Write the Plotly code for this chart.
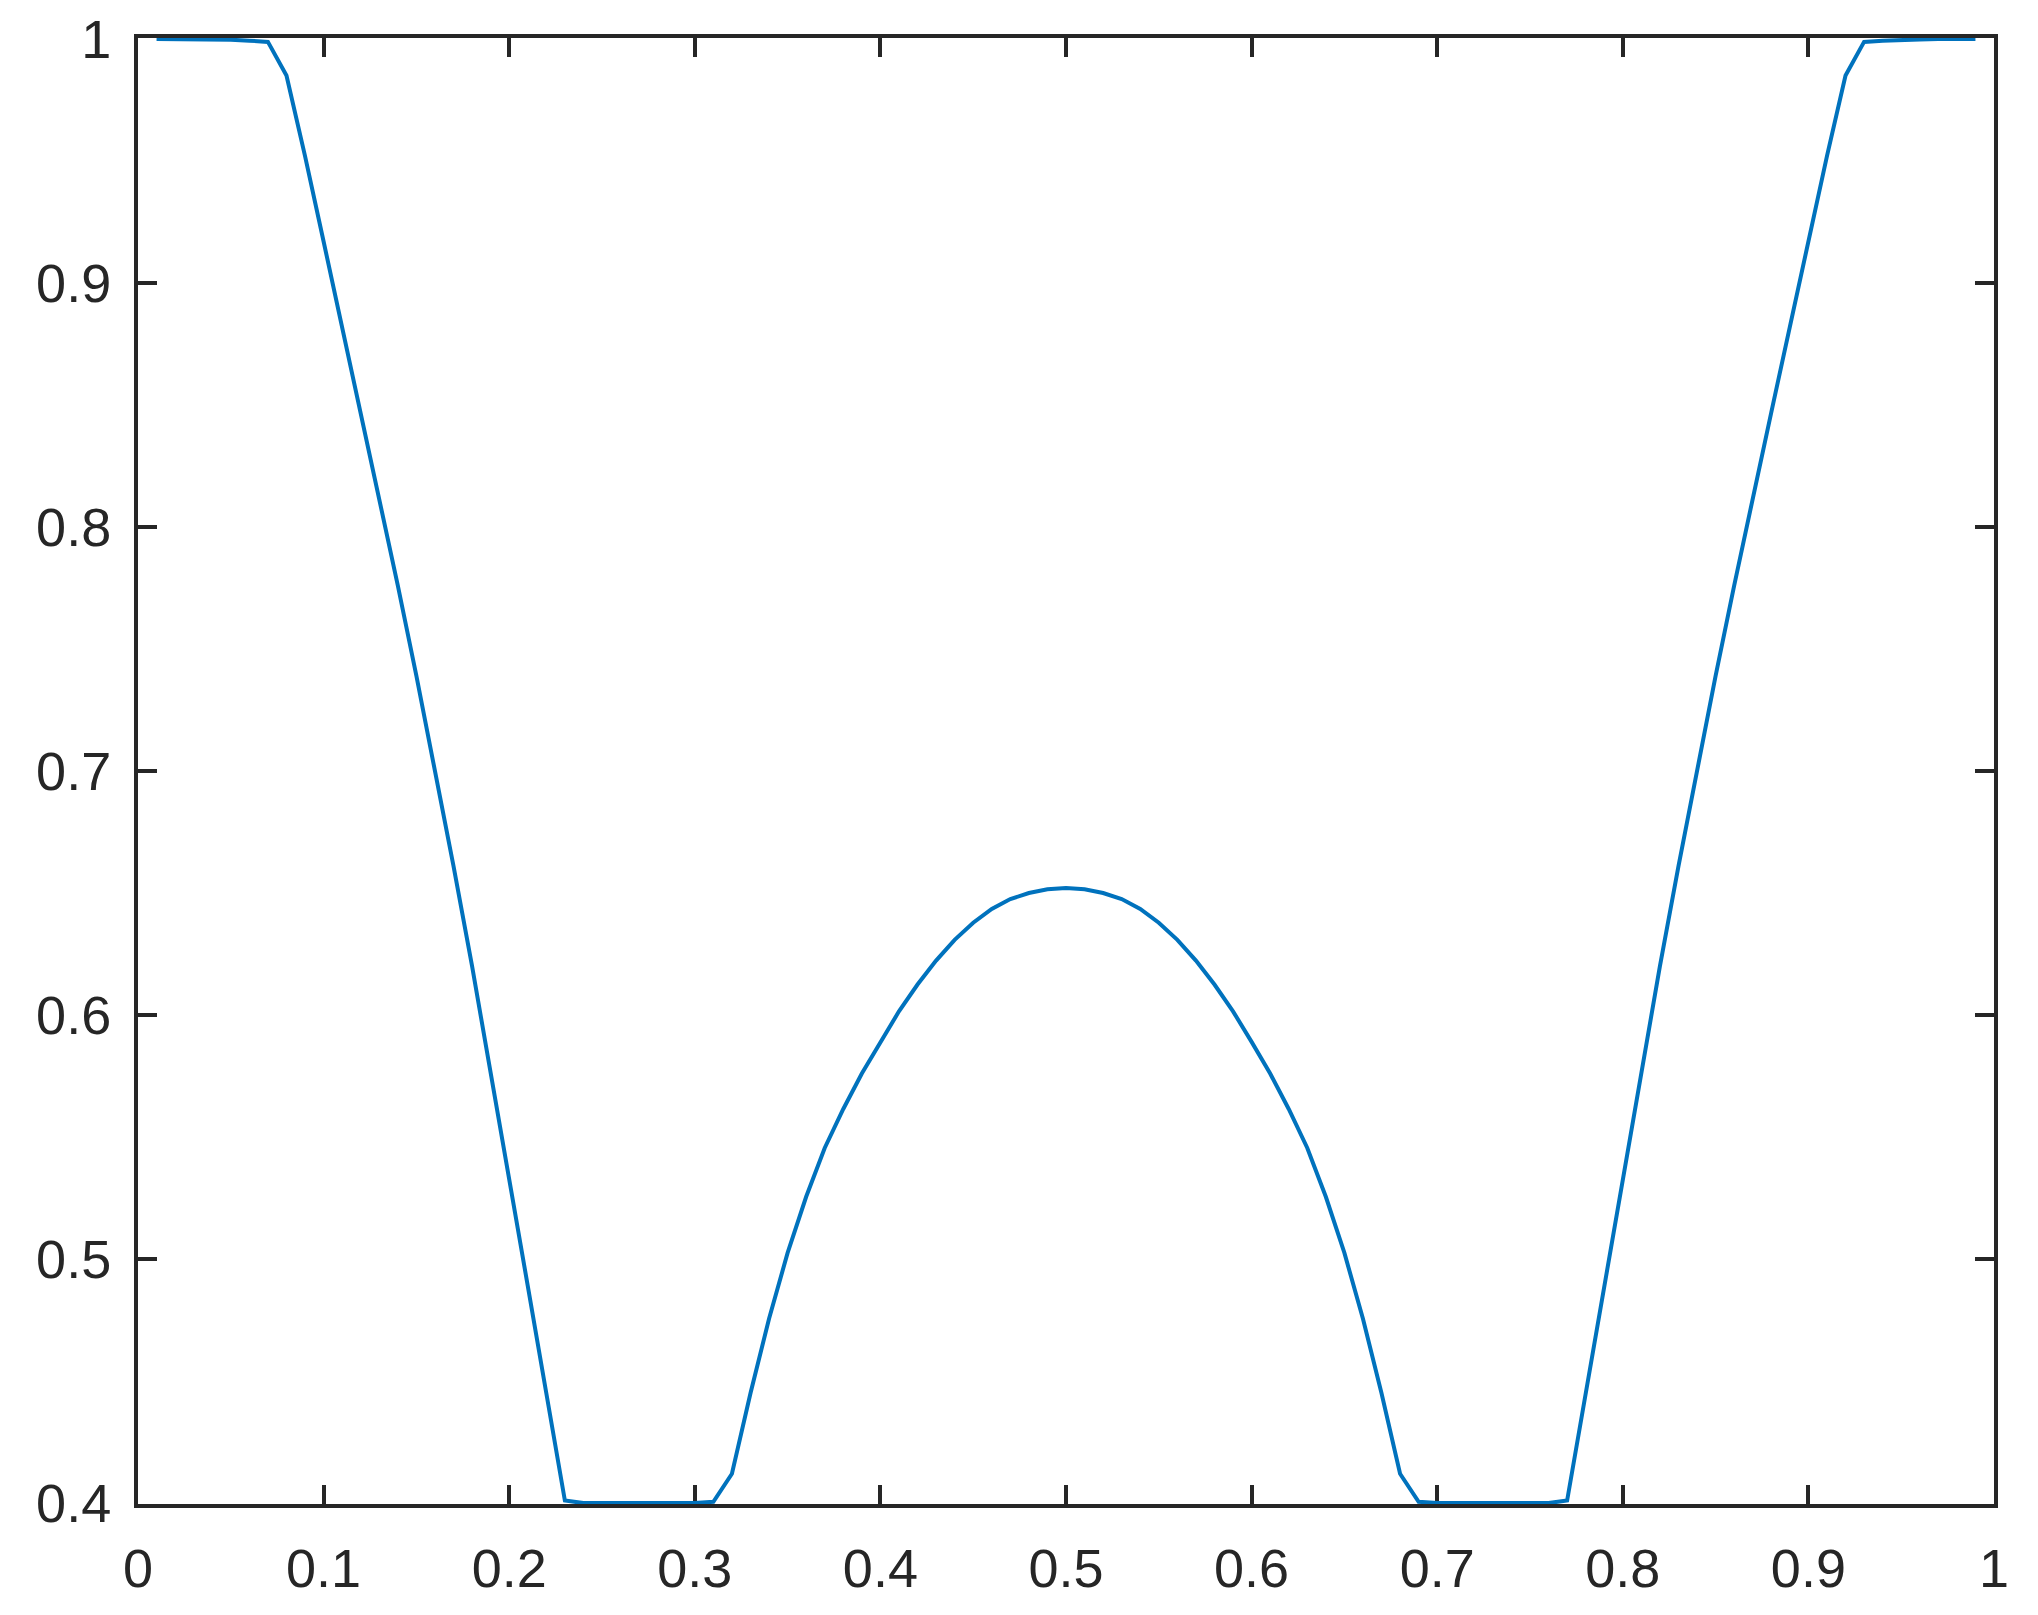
import plotly.graph_objects as go

# sample grid and the curve values
x_vals = [0.01, 0.02, 0.03, 0.04, 0.05, 0.06, 0.07, 0.08, 0.09, 0.10,
          0.11, 0.12, 0.13, 0.14, 0.15, 0.16, 0.17, 0.18, 0.19, 0.20,
          0.21, 0.22, 0.23, 0.24, 0.25, 0.26, 0.27, 0.28, 0.29, 0.30,
          0.31, 0.32, 0.33, 0.34, 0.35, 0.36, 0.37, 0.38, 0.39, 0.40,
          0.41, 0.42, 0.43, 0.44, 0.45, 0.46, 0.47, 0.48, 0.49, 0.50,
          0.51, 0.52, 0.53, 0.54, 0.55, 0.56, 0.57, 0.58, 0.59, 0.60,
          0.61, 0.62, 0.63, 0.64, 0.65, 0.66, 0.67, 0.68, 0.69, 0.70,
          0.71, 0.72, 0.73, 0.74, 0.75, 0.76, 0.77, 0.78, 0.79, 0.80,
          0.81, 0.82, 0.83, 0.84, 0.85, 0.86, 0.87, 0.88, 0.89, 0.90,
          0.91, 0.92, 0.93, 0.94, 0.95, 0.96, 0.97, 0.98, 0.99]

y_vals = [1.0, 1.0, 1.0, 0.9998, 0.9997, 0.9993, 0.9988, 0.985, 0.952, 0.917,
          0.882, 0.847, 0.812, 0.776, 0.739, 0.701, 0.661, 0.620, 0.577, 0.533,
          0.489, 0.445, 0.401, 0.4, 0.4, 0.4, 0.4, 0.4, 0.4, 0.4,
          0.4005, 0.412, 0.445, 0.4755, 0.5025, 0.5255, 0.5455, 0.5615, 0.576, 0.589,
          0.6015, 0.6125, 0.6223, 0.6308, 0.6378, 0.6435, 0.6475, 0.650, 0.6515, 0.652,
          0.6515, 0.650, 0.6475, 0.6435, 0.6378, 0.6308, 0.6223, 0.6125, 0.6015, 0.589,
          0.576, 0.5615, 0.5455, 0.5255, 0.5025, 0.4755, 0.445, 0.412, 0.4005, 0.4,
          0.4, 0.4, 0.4, 0.4, 0.4, 0.4, 0.401, 0.445, 0.489, 0.533,
          0.577, 0.620, 0.661, 0.701, 0.739, 0.776, 0.812, 0.847, 0.882, 0.917,
          0.952, 0.985, 0.9988, 0.9993, 0.9997, 0.9998, 1.0, 1.0, 1.0]

x_ticks = [0, 0.1, 0.2, 0.3, 0.4, 0.5, 0.6, 0.7, 0.8, 0.9, 1]
x_tick_text = ["0", "0.1", "0.2", "0.3", "0.4", "0.5", "0.6", "0.7", "0.8", "0.9", "1"]
y_ticks = [0.4, 0.5, 0.6, 0.7, 0.8, 0.9, 1]
y_tick_text = ["0.4", "0.5", "0.6", "0.7", "0.8", "0.9", "1"]

INK = "#262626"

fig = go.Figure()
fig.add_trace(go.Scatter(
    x=x_vals, y=y_vals,
    mode="lines",
    line=dict(color="#0072BD", width=4),
    showlegend=False,
))

axis_common = dict(
    showgrid=False,
    zeroline=False,
    showline=True,
    linecolor=INK,
    linewidth=4,
    mirror="ticks",
    ticks="inside",
    ticklen=19,
    tickwidth=4,
    tickcolor=INK,
    layer="below traces",
    automargin=False,
    ticklabeloverflow="allow",
    tickfont=dict(family="Liberation Sans, Arial, sans-serif", size=54, color=INK),
)

fig.update_xaxes(range=[0, 1], tickvals=x_ticks, ticktext=x_tick_text,
                 ticklabelstandoff=14, **axis_common)
fig.update_yaxes(range=[0.3996, 1.0004], tickvals=y_ticks, ticktext=y_tick_text,
                 ticklabelstandoff=12, **axis_common)

# page has an 8px body margin, so the figure is made 8px smaller
fig.update_layout(
    width=2030,
    height=1607,
    margin=dict(l=130, r=44, t=30, b=111),
    paper_bgcolor="white",
    plot_bgcolor="white",
)

fig.write_html("out.html")
